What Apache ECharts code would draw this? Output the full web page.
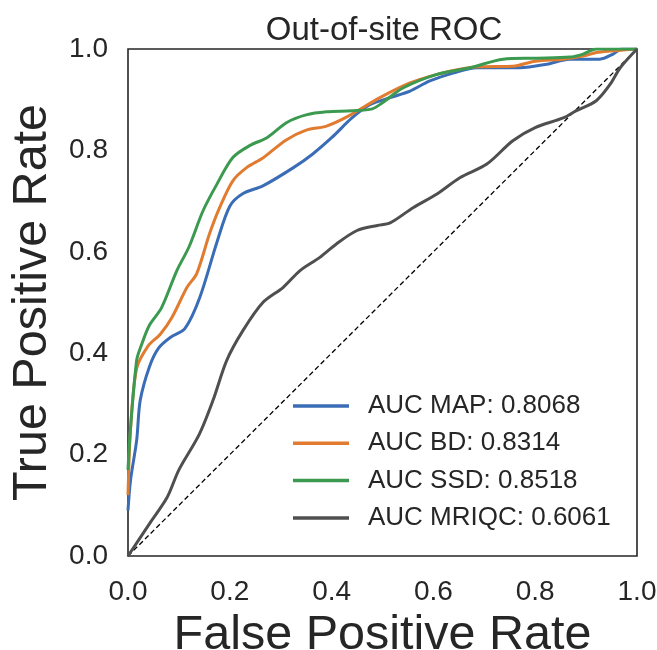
<!DOCTYPE html>
<html>
<head>
<meta charset="utf-8">
<script src="https://cdn.jsdelivr.net/npm/echarts@6/dist/echarts.min.js"></script>
<style>
html,body{margin:0;padding:0;background:#fff;}
#chart{width:657px;height:650px;}
</style>
</head>
<body>
<div id="chart"></div>
<script>
var title = 'Out-of-site ROC';
var xTitle = 'False Positive Rate';
var yTitle = 'True Positive Rate';
var seriesNames = ['AUC MAP: 0.8068', 'AUC BD: 0.8314', 'AUC SSD: 0.8518', 'AUC MRIQC: 0.6061'];
var colors = ['#3a6db5', '#e07b30', '#3c9a50', '#4f4f4f'];

var mapFpr = [0, 0.005, 0.017, 0.024, 0.042, 0.06, 0.083, 0.112, 0.141, 0.175, 0.2, 0.226, 0.265, 0.325, 0.363, 0.40, 0.44, 0.475, 0.515, 0.554, 0.593, 0.64, 0.686, 0.77, 0.823, 0.868, 0.927, 0.953, 0.97, 1.0];
var mapTpr = [0.09, 0.15, 0.228, 0.307, 0.373, 0.41, 0.431, 0.449, 0.51, 0.62, 0.69, 0.715, 0.73, 0.766, 0.793, 0.825, 0.864, 0.89, 0.904, 0.917, 0.937, 0.953, 0.963, 0.963, 0.97, 0.98, 0.98, 0.99, 1.0, 1.0];

var bdFpr = [0, 0.005, 0.017, 0.04, 0.063, 0.086, 0.116, 0.135, 0.16, 0.18, 0.206, 0.233, 0.265, 0.31, 0.35, 0.39, 0.43, 0.495, 0.554, 0.607, 0.652, 0.69, 0.756, 0.80, 0.855, 0.894, 0.92, 0.947, 1.0];
var bdTpr = [0.12, 0.25, 0.37, 0.415, 0.437, 0.47, 0.53, 0.557, 0.635, 0.687, 0.74, 0.766, 0.785, 0.82, 0.84, 0.848, 0.866, 0.904, 0.933, 0.95, 0.96, 0.965, 0.966, 0.976, 0.98, 0.986, 0.993, 0.996, 1.0];

var ssdFpr = [0, 0.004, 0.017, 0.026, 0.042, 0.066, 0.096, 0.12, 0.147, 0.175, 0.206, 0.24, 0.273, 0.312, 0.35, 0.39, 0.44, 0.48, 0.50, 0.54, 0.607, 0.672, 0.737, 0.80, 0.868, 0.894, 0.92, 1.0];
var ssdTpr = [0.17, 0.24, 0.386, 0.415, 0.455, 0.49, 0.563, 0.61, 0.68, 0.734, 0.786, 0.81, 0.825, 0.855, 0.87, 0.876, 0.878, 0.882, 0.894, 0.923, 0.95, 0.963, 0.98, 0.982, 0.984, 0.99, 1.0, 1.0];

var mriqcFpr = [0, 0.043, 0.077, 0.10, 0.14, 0.167, 0.194, 0.226, 0.265, 0.305, 0.338, 0.377, 0.41, 0.45, 0.49, 0.515, 0.56, 0.607, 0.652, 0.705, 0.756, 0.80, 0.855, 0.88, 0.92, 0.947, 0.967, 1.0];
var mriqcTpr = [0.0, 0.065, 0.116, 0.17, 0.24, 0.307, 0.386, 0.445, 0.50, 0.53, 0.563, 0.589, 0.616, 0.642, 0.652, 0.657, 0.687, 0.714, 0.746, 0.773, 0.819, 0.845, 0.864, 0.878, 0.898, 0.93, 0.963, 1.0];

var chanceFpr = [0, 1];
var chanceTpr = [0, 1];

function pairs(xs, ys) { return xs.map(function (x, i) { return [x, ys[i]]; }); }

var curves = [[mapFpr, mapTpr], [bdFpr, bdTpr], [ssdFpr, ssdTpr], [mriqcFpr, mriqcTpr]];
var FONT = 'Liberation Sans';
var TXT = '#262626';

var series = [{
  name: 'chance', type: 'line', data: pairs(chanceFpr, chanceTpr), symbol: 'none',
  lineStyle: { color: '#000', width: 1.3, type: [5, 3] }, silent: true, z: 1
}];
curves.forEach(function (c, i) {
  series.push({
    name: seriesNames[i], type: 'line', data: pairs(c[0], c[1]), symbol: 'none',
    smooth: 0.3,
    lineStyle: { color: colors[i], width: 3 }, itemStyle: { color: colors[i] }, z: 2
  });
});

var chart = echarts.init(document.getElementById('chart'), null, { renderer: 'canvas' });
chart.setOption({
  animation: false,
  backgroundColor: '#fff',
  title: {
    text: title, left: 379, top: 9, textAlign: 'center',
    textStyle: { fontFamily: FONT, fontSize: 33, fontWeight: 'normal', color: TXT }
  },
  grid: { left: 128, right: 20, top: 49, bottom: 94, show: true, borderColor: '#262626', borderWidth: 1.6, backgroundColor: 'transparent', containLabel: false, outerBoundsMode: 'none' },
  legend: {
    data: seriesNames, orient: 'vertical', left: 293, top: 393, padding: 0,
    icon: 'rect', itemWidth: 56, itemHeight: 3.5, itemGap: 11.3,
    textStyle: { fontFamily: FONT, fontSize: 26, color: TXT, lineHeight: 26, padding: [0, 0, 0, 14] }
  },
  xAxis: {
    type: 'value', min: 0, max: 1, interval: 0.2,
    name: xTitle, nameLocation: 'middle', nameGap: 51,
    nameTextStyle: { fontFamily: FONT, fontSize: 48.5, color: TXT },
    axisLine: { show: false }, axisTick: { show: false }, splitLine: { show: false },
    axisLabel: { fontFamily: FONT, fontSize: 28, color: TXT, margin: 22, formatter: function (v) { return v.toFixed(1); } }
  },
  yAxis: {
    type: 'value', min: 0, max: 1, interval: 0.2,
    name: yTitle, nameLocation: 'middle', nameGap: 71,
    nameTextStyle: { fontFamily: FONT, fontSize: 48.5, color: TXT },
    axisLine: { show: false }, axisTick: { show: false }, splitLine: { show: false },
    axisLabel: { fontFamily: FONT, fontSize: 28, color: TXT, margin: 20, formatter: function (v) { return v.toFixed(1); } }
  },
  series: series
});
</script>
</body>
</html>
